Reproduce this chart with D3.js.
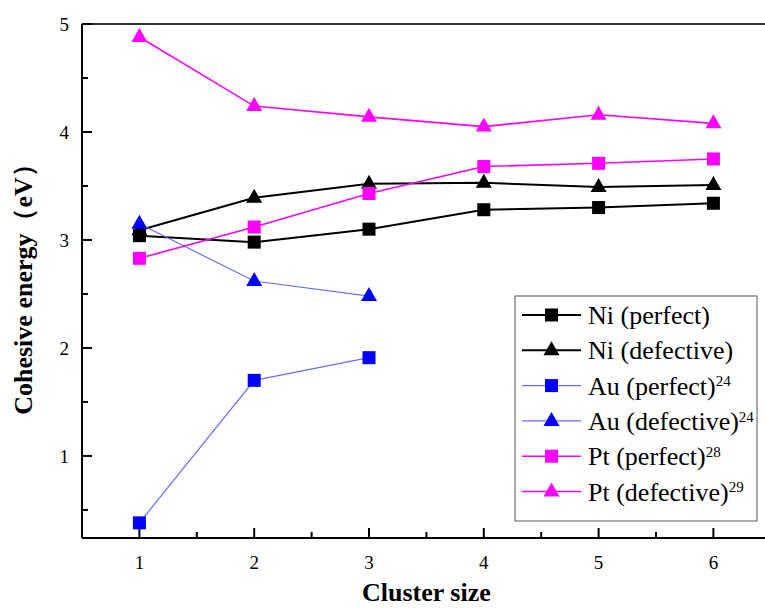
<!DOCTYPE html>
<html>
<head>
<meta charset="utf-8">
<script src="https://cdnjs.cloudflare.com/ajax/libs/d3/7.8.5/d3.min.js"></script>
<style>
  body { margin: 0; background: #fff; }
</style>
</head>
<body>
<div id="chart"></div>
<script>
const sizes = [1, 2, 3, 4, 5, 6]
const niPerfect = [3.04, 2.98, 3.10, 3.28, 3.30, 3.34]
const niDefective = [3.09, 3.39, 3.52, 3.53, 3.49, 3.51]
const auPerfect = [0.38, 1.70, 1.91]
const auDefective = [3.15, 2.62, 2.48]
const ptPerfect = [2.83, 3.12, 3.43, 3.68, 3.71, 3.75]
const ptDefective = [4.88, 4.24, 4.14, 4.05, 4.16, 4.08]
const yTicks = [1, 2, 3, 4, 5]

const series = [
  {name: "Ni (perfect)", sup: "", values: niPerfect, marker: "square", line: "#000", fill: "#000", lw: 2},
  {name: "Ni (defective)", sup: "", values: niDefective, marker: "triangle", line: "#000", fill: "#000", lw: 2},
  {name: "Au (perfect)", sup: "24", values: auPerfect, marker: "square", line: "#6b6bff", fill: "#0000ff", lw: 1.2},
  {name: "Au (defective)", sup: "24", values: auDefective, marker: "triangle", line: "#6b6bff", fill: "#0000ff", lw: 1.2},
  {name: "Pt (perfect)", sup: "28", values: ptPerfect, marker: "square", line: "#ff00ff", fill: "#ff00ff", lw: 1.6},
  {name: "Pt (defective)", sup: "29", values: ptDefective, marker: "triangle", line: "#ff00ff", fill: "#ff00ff", lw: 1.6}
]

const width = 765, height = 608
const mLeft = 82, mTop = 24, mBottom = 538
const serif = "Liberation Serif"

const svg = d3.select("#chart").append("svg")
  .attr("width", width).attr("height", height)

const x = d3.scaleLinear().domain([0.5, 6.5]).range([mLeft, mLeft + 6 * 114.8])
const y = d3.scaleLinear().domain([0.24, 5]).range([mBottom, mTop])

// frame top line
svg.append("line")
  .attr("x1", mLeft).attr("x2", width + 10)
  .attr("y1", mTop).attr("y2", mTop)
  .attr("stroke", "#333").attr("stroke-width", 2)

// left axis
const yAxis = svg.append("g").attr("transform", `translate(${mLeft},0)`)
yAxis.append("line").attr("x1", 0).attr("x2", 0).attr("y1", mTop).attr("y2", mBottom)
  .attr("stroke", "#000").attr("stroke-width", 2)
yAxis.selectAll(".major").data(yTicks).enter().append("line")
  .attr("x1", 0).attr("x2", 10).attr("y1", d => y(d)).attr("y2", d => y(d))
  .attr("stroke", "#000").attr("stroke-width", 2)
yAxis.selectAll(".minor").data([0.5, 1.5, 2.5, 3.5, 4.5]).enter().append("line")
  .attr("x1", 0).attr("x2", 6).attr("y1", d => y(d)).attr("y2", d => y(d))
  .attr("stroke", "#000").attr("stroke-width", 2)
yAxis.selectAll("text").data(yTicks).enter().append("text")
  .attr("x", -13).attr("y", d => y(d)).attr("dy", "0.35em")
  .attr("font-family", serif)
  .attr("text-anchor", "end").attr("font-size", 19).text(d => d)

// bottom axis
const xAxis = svg.append("g")
xAxis.append("line").attr("x1", mLeft).attr("x2", width + 10).attr("y1", mBottom).attr("y2", mBottom)
  .attr("stroke", "#000").attr("stroke-width", 2)
xAxis.selectAll(".major").data(sizes).enter().append("line")
  .attr("x1", d => x(d)).attr("x2", d => x(d)).attr("y1", mBottom).attr("y2", mBottom - 10)
  .attr("stroke", "#000").attr("stroke-width", 2)
xAxis.selectAll(".minor").data([1.5, 2.5, 3.5, 4.5, 5.5]).enter().append("line")
  .attr("x1", d => x(d)).attr("x2", d => x(d)).attr("y1", mBottom).attr("y2", mBottom - 6)
  .attr("stroke", "#000").attr("stroke-width", 2)
xAxis.selectAll("text").data(sizes).enter().append("text")
  .attr("x", d => x(d)).attr("y", mBottom + 31)
  .attr("font-family", serif)
  .attr("text-anchor", "middle").attr("font-size", 19).text(d => d)

// axis titles
svg.append("text")
  .attr("x", x(3.5)).attr("y", 601)
  .attr("font-family", serif)
  .attr("text-anchor", "middle").attr("font-size", 26).attr("font-weight", "bold")
  .text("Cluster size")
svg.append("text")
  .attr("transform", `translate(32,283) rotate(-90)`)
  .attr("font-family", serif)
  .attr("text-anchor", "middle").attr("font-size", 26).attr("font-weight", "bold")
  .text("Cohesive energy（eV）")

function drawMarker(g, type, cx, cy, color) {
  if (type === "square") {
    g.append("rect").attr("x", cx - 6.5).attr("y", cy - 6.5)
      .attr("width", 13).attr("height", 13).attr("fill", color)
  } else {
    g.append("path")
      .attr("d", `M${cx},${cy - 9}L${cx + 8},${cy + 5}L${cx - 8},${cy + 5}Z`)
      .attr("fill", color)
  }
}

const plot = svg.append("g")
series.forEach(s => {
  const pts = s.values.map((v, i) => [sizes[i], v])
  plot.append("path").datum(pts)
    .attr("fill", "none").attr("stroke", s.line).attr("stroke-width", s.lw)
    .attr("d", d3.line().x(d => x(d[0])).y(d => y(d[1])))
})
series.forEach(s => {
  s.values.forEach((v, i) => drawMarker(plot, s.marker, x(sizes[i]), y(v), s.fill))
})

// legend
const lg = svg.append("g")
lg.append("rect").attr("x", 515).attr("y", 296).attr("width", 242).attr("height", 225)
  .attr("fill", "#fff").attr("stroke", "#555").attr("stroke-width", 1)
series.forEach((s, i) => {
  const cy = 315 + i * 35.3
  lg.append("line").attr("x1", 522).attr("x2", 581).attr("y1", cy).attr("y2", cy)
    .attr("stroke", s.line).attr("stroke-width", s.lw)
  drawMarker(lg, s.marker, 551.5, cy, s.fill)
  const t = lg.append("text").attr("x", 588).attr("y", cy).attr("dy", "0.35em")
    .attr("font-family", serif)
    .attr("font-size", 26).text(s.name)
  if (s.sup) t.append("tspan").attr("dy", "-0.55em").attr("font-size", 15).text(s.sup)
})
</script>
</body>
</html>
